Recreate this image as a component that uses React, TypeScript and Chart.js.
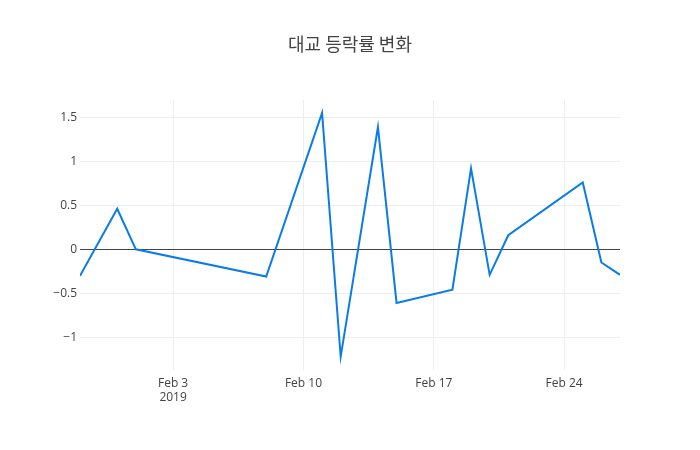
import { useEffect, useRef } from 'react';
import Chart from 'chart.js/auto';

const chartTitle = '대교 등락률 변화';

// trading dates and daily change rate (%)
const dates = [
    '2019-01-29', '2019-01-31', '2019-02-01', '2019-02-08', '2019-02-11',
    '2019-02-12', '2019-02-14', '2019-02-15', '2019-02-18', '2019-02-19',
    '2019-02-20', '2019-02-21', '2019-02-25', '2019-02-26', '2019-02-27',
];
const changeRate = [
    -0.30, 0.46, 0.0, -0.31, 1.55,
    -1.22, 1.39, -0.61, -0.46, 0.92,
    -0.29, 0.16, 0.76, -0.15, -0.29,
];

const tickDates = ['2019-02-03', '2019-02-10', '2019-02-17', '2019-02-24'];
const tickLabels: (string | string[])[] = [['Feb 3', '2019'], 'Feb 10', 'Feb 17', 'Feb 24'];

const startDate = '2019-01-29';
const endDate = '2019-02-27';

const DAY = 86400000;
const dayIndex = (d: string) => (Date.parse(d + 'T00:00:00Z') - Date.parse(startDate + 'T00:00:00Z')) / DAY;

export default function App() {
    const canvasRef = useRef<HTMLCanvasElement>(null);

    useEffect(() => {
        document.body.style.margin = '0';
        if (!canvasRef.current) return;
        const ctx = canvasRef.current.getContext('2d');
        if (!ctx) return;

        const points = dates.map((d, i) => ({ x: dayIndex(d), y: changeRate[i] }));
        const tickPos = tickDates.map(dayIndex);

        const chart = new Chart(ctx, {
            type: 'line',
            data: {
                datasets: [
                    {
                        data: points,
                        borderColor: 'rgb(10,124,232)',
                        borderWidth: 2,
                        pointRadius: 0,
                        tension: 0,
                        fill: false,
                    },
                ],
            },
            options: {
                responsive: false,
                animation: false,
                layout: { padding: 0 },
                plugins: {
                    legend: { display: false },
                    tooltip: { enabled: false },
                    title: {
                        display: true,
                        text: chartTitle,
                        color: '#444',
                        font: { family: "'Noto Sans CJK KR', 'Open Sans'", size: 18, weight: 'normal' },
                        padding: { top: 33, bottom: 45.4 },
                    },
                },
                scales: {
                    x: {
                        type: 'linear',
                        min: 0,
                        max: dayIndex(endDate),
                        afterFit: (scale) => { scale.height = 80; },
                        afterBuildTicks: (scale) => {
                            scale.ticks = tickPos.map(v => ({ value: v }));
                        },
                        ticks: {
                            color: '#444',
                            font: { family: "'Open Sans'", size: 12 },
                            padding: 6,
                            maxRotation: 0,
                            autoSkip: false,
                            callback: (v) => tickLabels[tickPos.indexOf(Number(v))] ?? '',
                        },
                        grid: { color: '#eee', drawTicks: false },
                        border: { display: false },
                    },
                    y: {
                        min: -1.372,
                        max: 1.697,
                        afterFit: (scale) => { scale.width = 80; },
                        afterBuildTicks: (scale) => {
                            scale.ticks = [-1, -0.5, 0, 0.5, 1, 1.5].map(v => ({ value: v }));
                        },
                        ticks: {
                            color: '#444',
                            font: { family: "'Open Sans'", size: 12 },
                            padding: 3,
                            callback: (v) => String(v).replace('-', '\u2212'),
                        },
                        grid: {
                            color: (c) => (c.tick && c.tick.value === 0 ? '#444' : '#eee'),
                            drawTicks: false,
                        },
                        border: { display: false },
                    },
                    // empty right margin so the title centres on the full width
                    yRight: {
                        position: 'right',
                        min: -1.372,
                        max: 1.697,
                        afterFit: (scale) => { scale.width = 80; },
                        ticks: { display: false },
                        grid: { display: false, drawTicks: false },
                        border: { display: false },
                    },
                },
            },
        });

        return () => {
            chart.destroy();
        };
    }, []);

    return (
        <div style={{ width: 700, height: 450, background: '#fff' }}>
            <canvas ref={canvasRef} width={700} height={450} />
        </div>
    );
}
